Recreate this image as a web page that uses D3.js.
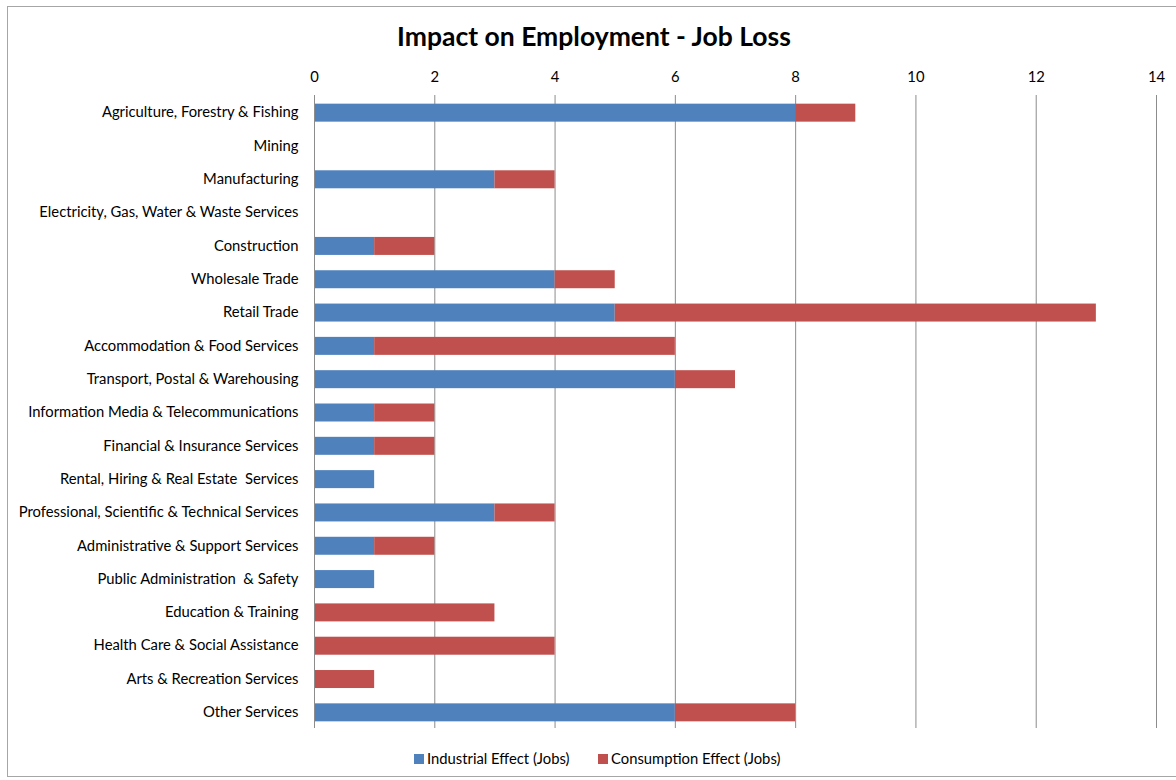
<!DOCTYPE html>
<html lang="en">
<head>
<meta charset="UTF-8">
<title>Impact on Employment - Job Loss</title>
<script src="https://cdn.jsdelivr.net/npm/d3@7"></script>
<style>
	body { margin: 0; background: #fff; }
	svg { font-family: Lato, "Open Sans", sans-serif; }
	.grid line { stroke: #8c8c8c; stroke-width: 1px; }
	.axis { font-family: Lato, "Open Sans", sans-serif; }
	.axis text { font-size: 14.8px; fill: #000; }
</style>
</head>
<body>
<svg id="chart" width="1176" height="780"></svg>
<script>
var categories = [
	"Agriculture, Forestry & Fishing",
	"Mining",
	"Manufacturing",
	"Electricity, Gas, Water & Waste Services",
	"Construction",
	"Wholesale Trade",
	"Retail Trade",
	"Accommodation & Food Services",
	"Transport, Postal & Warehousing",
	"Information Media & Telecommunications",
	"Financial & Insurance Services",
	"Rental, Hiring & Real Estate  Services",
	"Professional, Scientific & Technical Services",
	"Administrative & Support Services",
	"Public Administration  & Safety",
	"Education & Training",
	"Health Care & Social Assistance",
	"Arts & Recreation Services",
	"Other Services"
];
var industrial  = [8, 0, 3, 0, 1, 4, 5, 1, 6, 1, 1, 1, 3, 1, 1, 0, 0, 0, 6];
var consumption = [1, 0, 1, 0, 1, 1, 8, 5, 1, 1, 1, 0, 1, 1, 0, 3, 4, 1, 2];
var seriesNames = ["Industrial Effect (Jobs)", "Consumption Effect (Jobs)"];
var colors = ["#4f81bd", "#c0504d"];
var xTicks = [0, 2, 4, 6, 8, 10, 12, 14];

var svg = d3.select('#chart');

// outer chart frame
svg.append('rect')
	.attr('x', 7.5).attr('y', 6.5)
	.attr('width', 1180).attr('height', 770)
	.attr('fill', '#fff')
	.attr('stroke', '#a6a6a6');

svg.append('text')
	.attr('x', 594).attr('y', 46)
	.attr('text-anchor', 'middle')
	.style('font-size', '26.5px')
	.style('font-weight', 'bold')
	.text('Impact on Employment - Job Loss');

var x = d3.scaleLinear().domain([0, 14]).range([314, 1156]);
var y = d3.scaleBand().domain(categories).range([96, 729]).paddingInner(0.46).paddingOuter(0.23);

// gridlines
svg.append('g').attr('class', 'grid')
	.selectAll('line').data(xTicks).enter().append('line')
	.attr('x1', d => x(d) + 0.5).attr('x2', d => x(d) + 0.5)
	.attr('y1', 95).attr('y2', 728);

// top axis labels
var xAxis = d3.axisTop(x).tickValues(xTicks).tickSize(0).tickPadding(0);
svg.append('g').attr('class', 'axis')
	.attr('transform', 'translate(0,82)')
	.call(xAxis)
	.call(g => g.select('.domain').remove());

// stacked bars
var rows = categories.map((c, i) => ({cat: c, vals: [industrial[i], consumption[i]]}));
var stack = d3.stack().keys([0, 1]).value((d, k) => d.vals[k]);
var layers = stack(rows);

svg.append('g').selectAll('g').data(layers).enter().append('g')
	.attr('fill', (d, i) => colors[i])
	.selectAll('rect').data(d => d.filter(s => s[1] > s[0])).enter().append('rect')
	.attr('x', d => x(d[0]))
	.attr('width', d => x(d[1]) - x(d[0]))
	.attr('y', d => y(d.data.cat))
	.attr('height', y.bandwidth());

// vertical axis
var yAxis = d3.axisLeft(y).tickSize(0).tickPadding(16);
svg.append('g').attr('class', 'axis')
	.attr('transform', 'translate(314.5,0)')
	.call(yAxis)
	.call(g => g.select('.domain').attr('stroke', '#8c8c8c').attr('d', 'M0,95V728'))
	.selectAll('text').style('white-space', 'pre');

// legend
var legend = svg.append('g').attr('class', 'axis');
var legendX = [414, 598];
seriesNames.forEach(function (name, i) {
	legend.append('rect')
		.attr('x', legendX[i]).attr('y', 754)
		.attr('width', 10).attr('height', 10)
		.attr('fill', colors[i]);
	legend.append('text')
		.attr('x', legendX[i] + 13).attr('y', 764)
		.text(name);
});
</script>
</body>
</html>
